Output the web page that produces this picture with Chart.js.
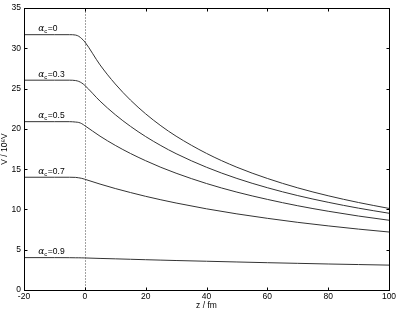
<!DOCTYPE html>
<html>
<head>
<meta charset="utf-8">
<script src="https://cdn.jsdelivr.net/npm/chart.js@4.4.1/dist/chart.umd.min.js"></script>
<style>
  html, body { margin: 0; padding: 0; background: #fff; }
  #wrap { width: 396px; height: 311px; }
</style>
</head>
<body>
<div id="wrap"><canvas id="potChart"></canvas></div>
<script>
// z positions (fm) and potential curves (10^6 V)
let zValues = [-20, -10, -5, -3, -2, -1, 0, 5, 10, 15, 20, 25, 30, 40, 50, 60, 70, 80, 90, 100];

let alpha00 = [31.7, 31.7, 31.7, 31.65, 31.5, 31.2, 30.8, 27.95, 25.58, 23.58, 21.87, 20.39, 19.10, 16.96, 15.24, 13.85, 12.68, 11.70, 10.86, 10.13];
let alpha03 = [26.05, 26.05, 26.05, 26.0, 25.9, 25.7, 25.4, 23.45, 21.77, 20.32, 19.05, 17.93, 16.93, 15.24, 13.85, 12.70, 11.72, 10.89, 10.16, 9.53];
let alpha05 = [20.9, 20.9, 20.9, 20.85, 20.8, 20.65, 20.4, 19.10, 17.96, 16.95, 16.05, 15.23, 14.50, 13.22, 12.15, 11.25, 10.46, 9.78, 9.18, 8.66];
let alpha07 = [14.0, 14.0, 14.0, 13.98, 13.93, 13.86, 13.75, 13.15, 12.60, 12.10, 11.63, 11.20, 10.80, 10.08, 9.45, 8.90, 8.40, 7.96, 7.56, 7.20];
let alpha09 = [4.02, 4.02, 4.01, 4.0, 4.0, 3.99, 3.98, 3.92, 3.87, 3.815, 3.76, 3.71, 3.66, 3.57, 3.48, 3.39, 3.31, 3.23, 3.16, 3.09];

let curveLabels = ["0", "0.3", "0.5", "0.7", "0.9"];
let curves = [alpha00, alpha03, alpha05, alpha07, alpha09];

const FONT = "'Liberation Sans', Arial, Helvetica, sans-serif";

function toPoints(values) {
    return zValues.map((z, i) => ({ x: z, y: values[i] }));
}

// frame, inward ticks, dotted z=0 line and the alpha_c labels
const decorations = {
    id: "decorations",
    afterDatasetsDraw(chart) {
        const ctx = chart.ctx;
        const area = chart.chartArea;
        const xs = chart.scales.x;
        const ys = chart.scales.y;
        const L = Math.round(area.left) + 0.5;
        const R = Math.round(area.right) + 0.5;
        const T = Math.round(area.top) + 0.5;
        const B = Math.round(area.bottom) + 0.5;

        ctx.save();

        // dotted vertical line at z = 0
        const x0 = Math.round(xs.getPixelForValue(0)) + 0.5;
        ctx.strokeStyle = "#444";
        ctx.lineWidth = 1;
        ctx.setLineDash([1, 2]);
        ctx.beginPath();
        ctx.moveTo(x0, T);
        ctx.lineTo(x0, B);
        ctx.stroke();
        ctx.setLineDash([]);

        // frame
        ctx.strokeStyle = "#000";
        ctx.strokeRect(L, T, R - L, B - T);

        // inward tick marks
        ctx.beginPath();
        xs.ticks.forEach(t => {
            const px = Math.round(xs.getPixelForValue(t.value)) + 0.5;
            ctx.moveTo(px, B); ctx.lineTo(px, B - 3);
            ctx.moveTo(px, T); ctx.lineTo(px, T + 3);
        });
        ys.ticks.forEach(t => {
            const py = Math.round(ys.getPixelForValue(t.value)) + 0.5;
            ctx.moveTo(L, py); ctx.lineTo(L + 3, py);
            ctx.moveTo(R, py); ctx.lineTo(R - 3, py);
        });
        ctx.stroke();

        // curve labels
        ctx.fillStyle = "#000";
        ctx.textBaseline = "alphabetic";
        ctx.textAlign = "left";
        const lx = xs.getPixelForValue(-15.3);
        curveLabels.forEach((lab, i) => {
            const py = ys.getPixelForValue(curves[i][0]) - 3.5;
            let x = lx;
            ctx.font = "italic 9px 'DejaVu Serif', serif";
            ctx.fillText("\u03b1", x, py);
            x += ctx.measureText("\u03b1").width;
            ctx.font = "6px " + FONT;
            ctx.fillText("c", x, py + 2);
            x += ctx.measureText("c").width + 0.5;
            ctx.font = "8.5px " + FONT;
            ctx.fillText("=" + lab, x, py);
        });

        ctx.restore();
    }
};

const lineStyle = {
    borderColor: "#333",
    borderWidth: 1,
    pointRadius: 0,
    fill: false,
    cubicInterpolationMode: "monotone"
};

const potChart = new Chart(
    document.getElementById("potChart"),
    {
        type: "line",
        data: {
            datasets: curves.map((c, i) => Object.assign({
                label: "alpha_c=" + curveLabels[i],
                data: toPoints(c)
            }, lineStyle))
        },
        options: {
            responsive: true,
            maintainAspectRatio: false,
            animation: false,
            events: [],
            layout: { padding: { top: 3, right: 0, left: 0, bottom: 0 } },
            plugins: {
                legend: { display: false },
                tooltip: { enabled: false }
            },
            scales: {
                x: {
                    type: "linear",
                    min: -20,
                    max: 100,
                    grid: { display: false, drawTicks: false },
                    border: { display: false },
                    ticks: { stepSize: 20, color: "#000", padding: 2, maxRotation: 0, font: { family: FONT, size: 8.5 } },
                    title: { display: true, text: "z / fm", color: "#000", padding: 0, font: { family: FONT, size: 8.5 } },
                    afterFit(scale) {
                        scale.height = 21;
                        scale.paddingRight = 7;
                        scale.paddingLeft = 0;
                    }
                },
                y: {
                    min: 0,
                    max: 35,
                    grid: { display: false, drawTicks: false },
                    border: { display: false },
                    ticks: { stepSize: 5, color: "#000", padding: 3, font: { family: FONT, size: 8.5 } },
                    title: { display: true, text: "V / 10\u2076V", color: "#000", padding: 0, font: { family: FONT, size: 8.5 } },
                    afterFit(scale) { scale.width = 24; }
                }
            }
        },
        plugins: [decorations]
    }
);
</script>
</body>
</html>
